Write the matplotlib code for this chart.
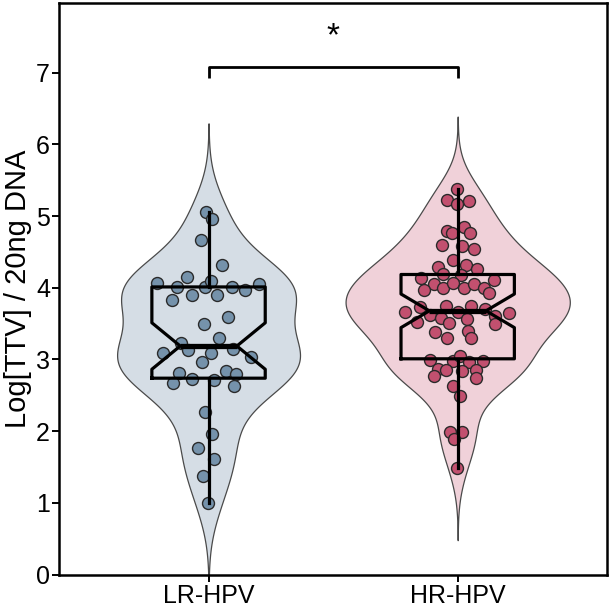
import matplotlib
matplotlib.use("Agg")
import matplotlib.pyplot as plt
import numpy as np

plt.rcParams["font.family"] = ["Liberation Sans", "DejaVu Sans"]

groups = ["LR-HPV", "HR-HPV"]

# значения
lr_vals = [5.053, 4.962, 4.664, 4.322, 4.156, 4.063, 4.011, 4.011, 4.090, 4.011,
           3.969, 4.049, 3.830, 3.903, 3.892, 3.593, 3.497, 3.298, 3.229, 3.131,
           3.087, 3.087, 3.145, 3.038, 2.969, 2.812, 2.670, 2.721, 2.719, 2.837,
           2.791, 2.624, 2.265, 1.964, 1.765, 1.607, 1.376, 0.995]
lr_jit = [-0.012, 0.015, -0.030, 0.052, -0.086, -0.208, -0.127, -0.014, 0.008, 0.094,
          0.147, 0.202, -0.147, -0.067, 0.034, 0.078, -0.020, 0.041, -0.110, -0.082,
          -0.182, 0.009, 0.098, 0.171, -0.028, -0.120, -0.141, -0.066, 0.021, 0.069,
          0.112, 0.104, -0.015, 0.013, -0.043, 0.023, -0.021, -0.004]

hr_vals = [5.379, 5.220, 5.174, 5.212, 4.785, 4.757, 4.851, 4.767, 4.591, 4.581,
           4.545, 4.386, 4.295, 4.313, 4.257, 4.188, 4.174, 4.136, 4.108, 4.045,
           3.969, 3.997, 4.072, 3.993, 4.053, 3.997, 3.924, 3.655, 3.725, 3.618,
           3.747, 3.572, 3.507, 3.655, 3.739, 3.562, 3.701, 3.604, 3.497, 3.646,
           3.516, 3.386, 3.294, 3.395, 3.294, 2.997, 2.978, 3.044, 2.969, 2.978,
           2.867, 2.849, 2.840, 2.858, 2.774, 2.738, 2.627, 2.488, 1.988, 1.988,
           1.885, 1.487]
hr_jit = [-0.003, -0.043, -0.003, 0.045, -0.043, -0.021, 0.027, 0.051, -0.063, 0.017,
          0.065, -0.019, -0.080, 0.035, 0.076, -0.060, 0.015, -0.146, 0.146, -0.096,
          -0.137, -0.059, -0.017, 0.024, 0.067, 0.104, 0.127, -0.212, -0.153, -0.112,
          -0.045, -0.067, -0.033, 0.003, 0.055, 0.037, 0.108, 0.151, 0.150, 0.206,
          -0.163, -0.091, -0.043, 0.040, 0.055, -0.112, -0.019, 0.008, 0.044, 0.102,
          -0.078, -0.048, 0.016, 0.075, -0.096, 0.075, -0.020, 0.011, -0.029, 0.016,
          -0.016, -0.003]

fill_colors = ["#d5dde5", "#f0d1d9"]
point_colors = ["#7592ab", "#c2506f"]


def kde(vals):
    v = np.asarray(vals)
    n = len(v)
    q75, q25 = np.percentile(v, [75, 25])
    bw = 0.9 * min(np.std(v, ddof=1), (q75 - q25) / 1.34) * n ** -0.2
    grid = np.linspace(v.min() - 3 * bw, v.max() + 3 * bw, 512)
    dens = np.exp(-0.5 * ((grid[:, None] - v[None, :]) / bw) ** 2).sum(1) / (n * bw * np.sqrt(2 * np.pi))
    return grid, dens


fig = plt.figure(figsize=(6.09, 6.08), dpi=100)
ax = fig.add_axes([0.097, 0.055, 0.9, 0.94])

all_vals = [lr_vals, hr_vals]
all_jit = [lr_jit, hr_jit]
kdes = [kde(v) for v in all_vals]
dmax = max(d.max() for _, d in kdes)

for i, (grid, dens) in enumerate(kdes):
    x = i + 1
    w = dens / dmax * 0.45
    ax.fill_betweenx(grid, x - w, x + w, facecolor=fill_colors[i], edgecolor="#4a4a4a",
                     linewidth=0.9, zorder=1)
    ax.scatter(x + np.array(all_jit[i]), all_vals[i], s=74, color=point_colors[i],
               edgecolor="#2a2a2a", linewidth=1.0, zorder=3)

ax.boxplot(all_vals, positions=[1, 2], widths=0.455, notch=True, showcaps=False,
           showfliers=False, patch_artist=False, zorder=4,
           boxprops=dict(color="black", linewidth=2.3),
           whiskerprops=dict(color="black", linewidth=2.3),
           medianprops=dict(color="black", linewidth=3.8))

# скобка значимости
ax.plot([1, 1, 2, 2], [6.93, 7.08, 7.08, 6.93], color="black", linewidth=2.0,
        solid_capstyle="butt", zorder=5)
ax.text(1.5, 7.5, "*", ha="center", va="center", fontsize=24)

ax.set_xlim(0.4, 2.6)
ax.set_ylim(0, 7.97)
ax.set_yticks(range(8))
ax.set_xticks([1, 2])
ax.set_xticklabels(groups)
ax.tick_params(labelsize=18, width=1.4, length=5, color="black", direction="out", pad=1.5)
ax.set_ylabel("Log[TTV] / 20ng DNA", fontsize=21, labelpad=3)
for sp in ax.spines.values():
    sp.set_linewidth(1.8)
    sp.set_color("black")

fig.savefig("out.png", dpi=100)
